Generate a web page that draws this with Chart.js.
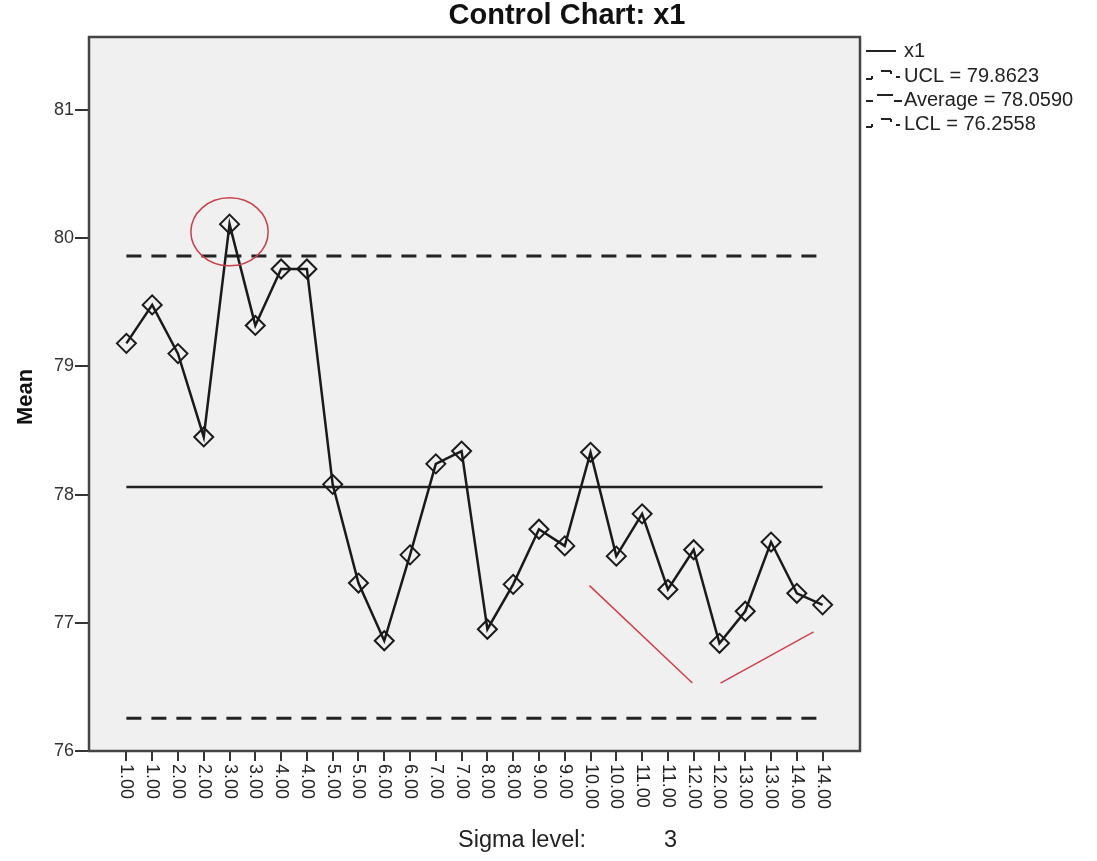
<!DOCTYPE html>
<html>
<head>
<meta charset="utf-8">
<script src="https://cdn.jsdelivr.net/npm/chart.js@4"></script>
<style>
  html, body { margin: 0; padding: 0; background: #ffffff; }
  #wrap { width: 1097px; height: 861px; position: relative; }
</style>
</head>
<body>
<div id="wrap"><canvas id="c" width="1097" height="861"></canvas></div>
<script>
// Subgroup labels (sigma level groups) along the x axis
const categories = ['1.00','1.00','2.00','2.00','3.00','3.00','4.00','4.00','5.00','5.00',
  '6.00','6.00','7.00','7.00','8.00','8.00','9.00','9.00','10.00','10.00',
  '11.00','11.00','12.00','12.00','13.00','13.00','14.00','14.00'];

// Subgroup means of x1
const means = [79.18, 79.48, 79.10, 78.45, 80.11, 79.32, 79.76, 79.76,
  78.08, 77.31, 76.86, 77.53, 78.24, 78.34, 76.95, 77.30,
  77.73, 77.60, 78.33, 77.52, 77.85, 77.26, 77.57, 76.84,
  77.09, 77.63, 77.23, 77.14];

// Control limits
const ucl = 79.8623;
const average = 78.0590;
const lcl = 76.2558;
const sigmaLevel = 3;

// Y axis ticks
const yTicks = [76, 77, 78, 79, 80, 81];

// Hand-drawn red markings: ring around the out-of-control point, trend strokes
const ringCenter = [4, 80.05];      // [subgroup index, mean]
const ringRadius = [1.5, 0.265];    // [index units, mean units]
const trendDown = [[17.96, 77.29], [21.95, 76.53]];
const trendUp = [[23.04, 76.53], [26.65, 76.93]];

const FONT = '"Liberation Sans", Arial, Helvetica, sans-serif';
const lastIdx = categories.length - 1;

function hLine(v) { return [{x: 0, y: v}, {x: lastIdx, y: v}]; }
function pts(arr) { return arr.map(p => ({x: p[0], y: p[1]})); }

const framePlugin = {
  id: 'frame',
  beforeDraw(chart) {
    const {ctx, chartArea: a} = chart;
    ctx.save();
    ctx.fillStyle = '#f0f0f0';
    ctx.fillRect(a.left, a.top, a.right - a.left, a.bottom - a.top);
    ctx.restore();
  },
  afterDatasetsDraw(chart) {
    const {ctx, chartArea: a} = chart;
    const xs = chart.scales.x, ys = chart.scales.y;
    ctx.save();
    // red ring around the point above UCL
    const cx = xs.getPixelForValue(ringCenter[0]);
    const cy = ys.getPixelForValue(ringCenter[1]);
    const rx = Math.abs(xs.getPixelForValue(ringCenter[0] + ringRadius[0]) - cx);
    const ry = Math.abs(ys.getPixelForValue(ringCenter[1] + ringRadius[1]) - cy);
    ctx.strokeStyle = '#c8404a';
    ctx.lineWidth = 1.5;
    ctx.beginPath();
    ctx.ellipse(cx, cy, rx, ry, 0, 0, Math.PI * 2);
    ctx.stroke();
    // frame
    ctx.strokeStyle = '#444444';
    ctx.lineWidth = 2.5;
    ctx.strokeRect(a.left, a.top, a.right - a.left, a.bottom - a.top);
    ctx.restore();
  },
  afterDraw(chart) {
    const {ctx, chartArea: a} = chart;
    const xs = chart.scales.x;
    ctx.save();
    // rotated category labels, reading top to bottom
    ctx.fillStyle = '#222222';
    ctx.font = '18px ' + FONT;
    ctx.textAlign = 'left';
    ctx.textBaseline = 'middle';
    categories.forEach((lab, i) => {
      const px = xs.getPixelForValue(i);
      ctx.save();
      ctx.translate(px, a.bottom + 13);
      ctx.rotate(Math.PI / 2);
      ctx.fillText(lab, 0, 0);
      ctx.restore();
    });
    // title
    ctx.fillStyle = '#111111';
    ctx.font = 'bold 29px ' + FONT;
    ctx.textAlign = 'center';
    ctx.textBaseline = 'middle';
    ctx.fillText('Control Chart: x1', 567, 16);
    // y axis title
    ctx.save();
    ctx.translate(26, 397);
    ctx.rotate(-Math.PI / 2);
    ctx.font = 'bold 22px ' + FONT;
    ctx.fillText('Mean', 0, 0);
    ctx.restore();
    // sigma note
    ctx.font = '23.5px ' + FONT;
    ctx.textAlign = 'left';
    ctx.fillStyle = '#222222';
    ctx.fillText('Sigma level:', 458, 841);
    ctx.fillText(String(sigmaLevel), 664, 841);
    // legend
    const lx = a.right + 6;
    const rows = [
      {label: 'x1', kind: 'solid', y: 51},
      {label: 'UCL = ' + ucl.toFixed(4), kind: 'limit', y: 76},
      {label: 'Average = ' + average.toFixed(4), kind: 'avg', y: 100},
      {label: 'LCL = ' + lcl.toFixed(4), kind: 'limit', y: 124}
    ];
    ctx.font = '20px ' + FONT;
    ctx.textBaseline = 'middle';
    ctx.strokeStyle = '#222222';
    ctx.lineWidth = 2;
    rows.forEach(r => {
      ctx.beginPath();
      if (r.kind === 'solid') {
        ctx.moveTo(lx, r.y); ctx.lineTo(lx + 30, r.y);
      } else if (r.kind === 'limit') {
        ctx.moveTo(lx, r.y + 3); ctx.lineTo(lx + 6, r.y + 3);
        ctx.moveTo(lx + 6, r.y + 3); ctx.lineTo(lx + 6, r.y);
        ctx.moveTo(lx + 15, r.y - 5); ctx.lineTo(lx + 25, r.y - 5);
        ctx.moveTo(lx + 25, r.y - 5); ctx.lineTo(lx + 25, r.y - 2);
        ctx.moveTo(lx + 30, r.y + 1); ctx.lineTo(lx + 34, r.y + 1);
      } else {
        ctx.moveTo(lx, r.y + 1); ctx.lineTo(lx + 7, r.y + 1);
        ctx.moveTo(lx + 11, r.y - 5); ctx.lineTo(lx + 27, r.y - 5);
        ctx.moveTo(lx + 28, r.y + 1); ctx.lineTo(lx + 36, r.y + 1);
      }
      ctx.stroke();
      ctx.fillStyle = '#222222';
      ctx.fillText(r.label, lx + 38, r.y);
    });
    ctx.restore();
  }
};

new Chart(document.getElementById('c'), {
  type: 'line',
  data: {
    datasets: [
      {
        label: 'x1',
        data: means.map((m, i) => ({x: i, y: m})),
        borderColor: '#1a1a1a',
        borderWidth: 2.5,
        pointStyle: 'rectRot',
        pointRadius: 9.5,
        pointHoverRadius: 9.5,
        pointBorderColor: '#1a1a1a',
        pointBorderWidth: 2,
        pointBackgroundColor: 'rgba(0,0,0,0)',
        tension: 0,
        order: 0
      },
      {
        label: 'UCL',
        data: hLine(ucl),
        borderColor: '#222222',
        borderWidth: 3,
        borderDash: [15, 10],
        pointRadius: 0,
        order: 1
      },
      {
        label: 'Average',
        data: hLine(average),
        borderColor: '#222222',
        borderWidth: 2.5,
        pointRadius: 0,
        order: 1
      },
      {
        label: 'LCL',
        data: hLine(lcl),
        borderColor: '#222222',
        borderWidth: 3,
        borderDash: [15, 10],
        pointRadius: 0,
        order: 1
      },
      {
        label: 'trend down',
        data: pts(trendDown),
        borderColor: '#d0404a',
        borderWidth: 1.5,
        pointRadius: 0,
        order: 2
      },
      {
        label: 'trend up',
        data: pts(trendUp),
        borderColor: '#d0404a',
        borderWidth: 1.5,
        pointRadius: 0,
        order: 2
      }
    ]
  },
  options: {
    responsive: false,
    animation: false,
    events: [],
    layout: { padding: { left: 0, top: 37, right: 237, bottom: 0 } },
    plugins: { legend: { display: false }, tooltip: { enabled: false }, title: { display: false } },
    scales: {
      x: {
        type: 'linear',
        min: -1.45,
        max: lastIdx + 1.45,
        afterBuildTicks(scale) { scale.ticks = categories.map((c, i) => ({value: i})); },
        afterFit(scale) { scale.height = 110; },
        border: { display: false },
        grid: { drawOnChartArea: false, drawTicks: true, tickLength: 10, color: '#333333', lineWidth: 2 },
        ticks: { display: false }
      },
      y: {
        type: 'linear',
        min: 76,
        max: 81.57,
        afterBuildTicks(scale) { scale.ticks = yTicks.map(v => ({value: v})); },
        afterFit(scale) { scale.width = 89; },
        border: { display: false },
        grid: { drawOnChartArea: false, drawTicks: true, tickLength: 14, color: '#333333', lineWidth: 2 },
        ticks: {
          padding: 1,
          color: '#333333',
          font: { family: FONT, size: 18 },
          callback: v => String(v)
        }
      }
    }
  },
  plugins: [framePlugin]
});
</script>
</body>
</html>
